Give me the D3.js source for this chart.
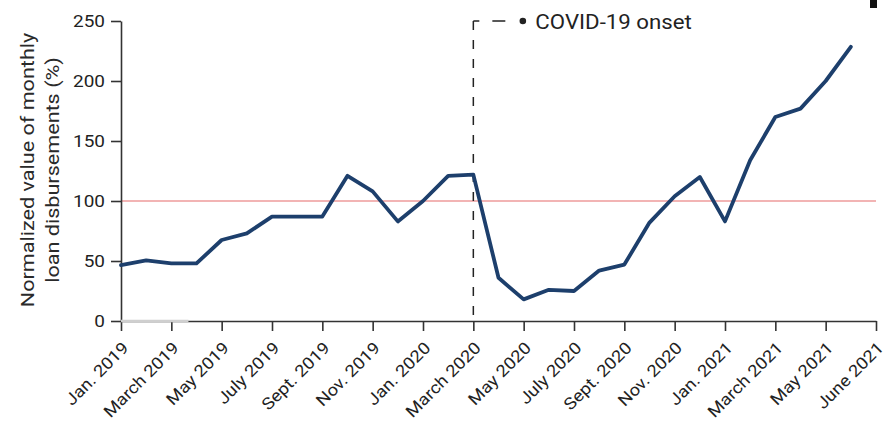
<!DOCTYPE html>
<html>
<head>
<meta charset="utf-8">
<script src="https://cdn.jsdelivr.net/npm/d3@7"></script>
<style>
  html, body { margin: 0; padding: 0; background: #fff; }
  svg { display: block; }
  text { font-family: Roboto, "Liberation Sans", Arial, sans-serif; fill: #333; }
</style>
</head>
<body>
<svg id="chart" width="884" height="422"></svg>
<script>
// ---- data ----
const months = ["Jan. 2019","Feb. 2019","March 2019","April 2019","May 2019","June 2019",
  "July 2019","Aug. 2019","Sept. 2019","Oct. 2019","Nov. 2019","Dec. 2019",
  "Jan. 2020","Feb. 2020","March 2020","April 2020","May 2020","June 2020",
  "July 2020","Aug. 2020","Sept. 2020","Oct. 2020","Nov. 2020","Dec. 2020",
  "Jan. 2021","Feb. 2021","March 2021","April 2021","May 2021","June 2021"];
const values = [46.5, 50.5, 48, 48, 67.5, 73, 87, 87, 87, 121, 108, 83,
  100, 121, 122, 36, 18, 26, 25, 42, 47, 82, 104, 120,
  83, 134, 170, 177, 200, 228.5];
const xTickLabels = ["Jan. 2019","March 2019","May 2019","July 2019","Sept. 2019","Nov. 2019",
  "Jan. 2020","March 2020","May 2020","July 2020","Sept. 2020","Nov. 2020",
  "Jan. 2021","March 2021","May 2021","June 2021"];
const xTickIndex = [0,2,4,6,8,10,12,14,16,18,20,22,24,26,28,30];
const yTicks = [0, 50, 100, 150, 200, 250];
const referenceValue = 100;
const onsetIndex = 14; // March 2020
const onsetLabel = "COVID-19 onset";
const yTitle = ["Normalized value of monthly", "loan disbursements (%)"];

// ---- layout ----
const svg = d3.select("#chart");
const x = d3.scaleLinear().domain([0, 30]).range([121, 876]);
const y = d3.scaleLinear().domain([0, 250]).range([321, 21]);
const ink = "#333";

// reference line at 100
svg.append("line")
  .attr("x1", x(0)).attr("x2", x(30))
  .attr("y1", y(referenceValue)).attr("y2", y(referenceValue))
  .attr("stroke", "#f2b4b4").attr("stroke-width", 2);

// x axis
const xAxis = d3.axisBottom(x).tickValues(xTickIndex).tickSize(10).tickSizeOuter(0)
  .tickFormat((d, i) => xTickLabels[i]);
const gx = svg.append("g").attr("transform", `translate(0,${y(0)})`).call(xAxis);
gx.select(".domain").attr("stroke", ink).attr("stroke-width", 1.6);
gx.selectAll(".tick line").attr("stroke", ink).attr("stroke-width", 1.6);
gx.selectAll(".tick text")
  .attr("y", null).attr("dy", null).attr("x", null)
  .attr("text-anchor", "end")
  .attr("font-size", 16.5)
  .attr("transform", "translate(8,28) rotate(-45) scale(1.12,1)");

// y axis
const yAxis = d3.axisLeft(y).tickValues(yTicks).tickSize(10).tickSizeOuter(0);
const gy = svg.append("g").attr("transform", `translate(${x(0)},0)`).call(yAxis);
gy.select(".domain").attr("stroke", ink).attr("stroke-width", 1.6);
gy.selectAll(".tick line").attr("stroke", ink).attr("stroke-width", 1.6);
gy.selectAll(".tick text")
  .attr("x", null)
  .attr("font-size", 16.5)
  .attr("transform", "translate(-16,0) scale(1.15,1)");
svg.selectAll(".tick text").style("fill", "#222").attr("font-family", null);

// light grey overlay on baseline (as in source)
svg.append("line")
  .attr("x1", x(0)).attr("x2", x(2.68))
  .attr("y1", y(0)).attr("y2", y(0))
  .attr("stroke", "#cfcfcf").attr("stroke-width", 2.6);

// y title
const yt = svg.append("text")
  .attr("transform", "translate(28,170) rotate(-90) scale(1.2,1)")
  .attr("text-anchor", "middle")
  .attr("font-size", 18)
  .style("fill", "#2a2a2a");
yt.append("tspan").attr("x", 0).attr("y", 6).text(yTitle[0]);
yt.append("tspan").attr("x", 0).attr("y", 31).text(yTitle[1]);

// onset dashed marker
svg.append("line")
  .attr("x1", x(onsetIndex)).attr("x2", x(onsetIndex))
  .attr("y1", y(250)).attr("y2", y(0))
  .attr("stroke", "#222").attr("stroke-width", 1.5)
  .attr("stroke-dasharray", "9,10");
svg.append("line")
  .attr("x1", x(onsetIndex)).attr("x2", x(onsetIndex) + 32)
  .attr("y1", y(250)).attr("y2", y(250))
  .attr("stroke", "#222").attr("stroke-width", 1.5)
  .attr("stroke-dasharray", "6,13,13,100");
svg.append("circle")
  .attr("cx", x(onsetIndex) + 49.5).attr("cy", y(250))
  .attr("r", 3.3).attr("fill", "#222");
svg.append("text")
  .attr("transform", `translate(${x(onsetIndex) + 62},${y(250) + 7.5}) scale(1.06,1)`)
  .attr("font-size", 21)
  .style("fill", "#222")
  .text(onsetLabel);

// data line
const line = d3.line().x((d, i) => x(i)).y(d => y(d));
svg.append("path")
  .datum(values)
  .attr("d", line)
  .attr("fill", "none")
  .attr("stroke", "#1d3f6c")
  .attr("stroke-width", 3.8)
  .attr("stroke-linejoin", "round")
  .attr("stroke-linecap", "round");

// small black mark at top-right corner (as in source)
svg.append("rect")
  .attr("x", 870).attr("y", 0).attr("width", 7).attr("height", 8)
  .attr("fill", "#111");
</script>
</body>
</html>
